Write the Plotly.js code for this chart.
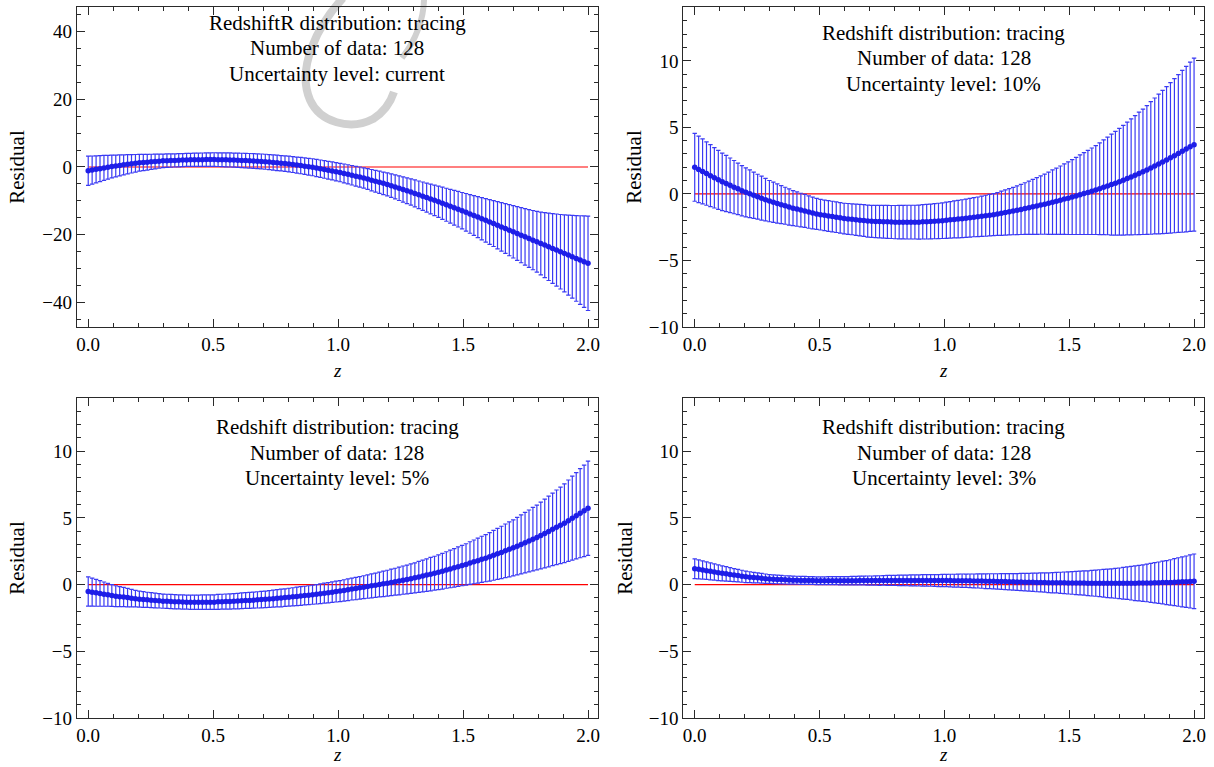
<!DOCTYPE html>
<html>
<head>
<meta charset="utf-8">
<script src="https://cdn.plot.ly/plotly-3.0.1.min.js"></script>
<style>
  html, body { margin: 0; padding: 0; background: #ffffff; }
  #chart { width: 1214px; height: 767px; }
</style>
</head>
<body>
<div id="chart"></div>
<script>
// ---------- data ----------
const z = [0.0000,0.0157,0.0315,0.0472,0.0630,0.0787,0.0945,0.1102,0.1260,0.1417,0.1575,0.1732,0.1890,0.2047,0.2205,0.2362,0.2520,0.2677,0.2835,0.2992,0.3150,0.3307,0.3465,0.3622,0.3780,0.3937,0.4094,0.4252,0.4409,0.4567,0.4724,0.4882,0.5039,0.5197,0.5354,0.5512,0.5669,0.5827,0.5984,0.6142,0.6299,0.6457,0.6614,0.6772,0.6929,0.7087,0.7244,0.7402,0.7559,0.7717,0.7874,0.8031,0.8189,0.8346,0.8504,0.8661,0.8819,0.8976,0.9134,0.9291,0.9449,0.9606,0.9764,0.9921,1.0079,1.0236,1.0394,1.0551,1.0709,1.0866,1.1024,1.1181,1.1339,1.1496,1.1654,1.1811,1.1969,1.2126,1.2283,1.2441,1.2598,1.2756,1.2913,1.3071,1.3228,1.3386,1.3543,1.3701,1.3858,1.4016,1.4173,1.4331,1.4488,1.4646,1.4803,1.4961,1.5118,1.5276,1.5433,1.5591,1.5748,1.5906,1.6063,1.6220,1.6378,1.6535,1.6693,1.6850,1.7008,1.7165,1.7323,1.7480,1.7638,1.7795,1.7953,1.8110,1.8268,1.8425,1.8583,1.8740,1.8898,1.9055,1.9213,1.9370,1.9528,1.9685,1.9843,2.0000];

// Panel 1: uncertainty level current
const residualCurrent = [-1.10,-0.90,-0.69,-0.49,-0.28,-0.08,0.13,0.30,0.46,0.62,0.78,0.93,1.09,1.23,1.32,1.42,1.51,1.61,1.70,1.80,1.85,1.89,1.94,1.99,2.03,2.08,2.11,2.13,2.14,2.16,2.17,2.19,2.19,2.16,2.13,2.10,2.07,2.03,2.00,1.94,1.88,1.82,1.75,1.69,1.63,1.54,1.43,1.32,1.21,1.10,0.99,0.87,0.71,0.55,0.40,0.24,0.08,-0.08,-0.29,-0.51,-0.73,-0.95,-1.17,-1.39,-1.63,-1.90,-2.17,-2.44,-2.71,-2.97,-3.25,-3.56,-3.88,-4.19,-4.51,-4.82,-5.14,-5.50,-5.88,-6.26,-6.64,-7.01,-7.39,-7.78,-8.19,-8.60,-9.01,-9.42,-9.83,-10.25,-10.68,-11.13,-11.57,-12.01,-12.45,-12.89,-13.35,-13.83,-14.30,-14.77,-15.24,-15.72,-16.20,-16.68,-17.17,-17.66,-18.15,-18.64,-19.12,-19.61,-20.10,-20.59,-21.08,-21.56,-22.05,-22.54,-23.03,-23.52,-24.01,-24.49,-24.98,-25.47,-25.96,-26.45,-26.94,-27.42,-27.91,-28.40];
const errorCurrent = [4.30,4.14,3.99,3.83,3.67,3.51,3.36,3.22,3.09,2.97,2.84,2.71,2.59,2.48,2.40,2.32,2.24,2.16,2.08,2.00,1.99,1.97,1.95,1.94,1.92,1.91,1.91,1.93,1.94,1.96,1.97,1.99,2.00,2.02,2.04,2.05,2.07,2.08,2.10,2.11,2.13,2.15,2.16,2.18,2.19,2.21,2.22,2.24,2.26,2.27,2.29,2.31,2.34,2.37,2.40,2.43,2.46,2.50,2.53,2.56,2.59,2.62,2.65,2.68,2.72,2.77,2.82,2.87,2.91,2.96,3.01,3.07,3.14,3.20,3.26,3.32,3.39,3.46,3.54,3.62,3.70,3.78,3.86,3.95,4.06,4.17,4.28,4.39,4.50,4.61,4.74,4.86,4.99,5.12,5.24,5.37,5.53,5.70,5.88,6.05,6.22,6.40,6.58,6.76,6.95,7.14,7.33,7.52,7.71,7.91,8.12,8.32,8.53,8.73,8.94,9.24,9.59,9.94,10.28,10.63,10.98,11.35,11.78,12.20,12.63,13.05,13.48,13.90];

// Panel 2: uncertainty level 10%
const residual10 = [2.00,1.84,1.69,1.53,1.37,1.21,1.06,0.91,0.78,0.65,0.51,0.38,0.24,0.12,0.01,-0.10,-0.21,-0.32,-0.43,-0.54,-0.63,-0.72,-0.81,-0.89,-0.98,-1.07,-1.14,-1.21,-1.28,-1.36,-1.43,-1.50,-1.56,-1.61,-1.66,-1.70,-1.75,-1.80,-1.85,-1.88,-1.91,-1.94,-1.97,-2.00,-2.04,-2.06,-2.07,-2.08,-2.09,-2.10,-2.11,-2.12,-2.12,-2.12,-2.12,-2.12,-2.12,-2.12,-2.10,-2.09,-2.07,-2.05,-2.03,-2.01,-1.98,-1.95,-1.92,-1.89,-1.86,-1.83,-1.79,-1.75,-1.72,-1.68,-1.64,-1.60,-1.56,-1.51,-1.45,-1.40,-1.34,-1.29,-1.23,-1.17,-1.10,-1.04,-0.97,-0.91,-0.84,-0.77,-0.70,-0.62,-0.55,-0.47,-0.39,-0.32,-0.24,-0.15,-0.06,0.03,0.11,0.20,0.29,0.39,0.50,0.60,0.70,0.80,0.91,1.03,1.16,1.28,1.41,1.54,1.66,1.80,1.95,2.10,2.25,2.40,2.55,2.71,2.87,3.04,3.20,3.37,3.54,3.70];
const error10 = [2.55,2.50,2.44,2.38,2.33,2.27,2.22,2.16,2.11,2.05,2.00,1.94,1.89,1.84,1.79,1.74,1.69,1.65,1.60,1.55,1.51,1.47,1.43,1.39,1.36,1.32,1.29,1.26,1.24,1.22,1.19,1.17,1.15,1.15,1.15,1.15,1.15,1.15,1.15,1.16,1.16,1.17,1.18,1.19,1.20,1.20,1.21,1.22,1.23,1.24,1.24,1.25,1.26,1.26,1.27,1.27,1.27,1.28,1.29,1.30,1.31,1.32,1.33,1.34,1.36,1.37,1.39,1.41,1.42,1.44,1.45,1.47,1.49,1.51,1.54,1.56,1.58,1.61,1.66,1.70,1.74,1.78,1.83,1.88,1.94,2.00,2.07,2.13,2.19,2.26,2.34,2.42,2.49,2.57,2.65,2.73,2.81,2.90,2.99,3.08,3.16,3.25,3.34,3.45,3.56,3.67,3.79,3.90,4.01,4.12,4.24,4.36,4.48,4.60,4.71,4.84,4.98,5.11,5.25,5.38,5.51,5.65,5.79,5.93,6.08,6.22,6.36,6.50];

// Panel 3: uncertainty level 5%
const residual5 = [-0.51,-0.56,-0.61,-0.66,-0.71,-0.76,-0.81,-0.86,-0.90,-0.93,-0.97,-1.01,-1.05,-1.09,-1.11,-1.14,-1.16,-1.19,-1.21,-1.24,-1.25,-1.26,-1.28,-1.29,-1.30,-1.31,-1.32,-1.32,-1.32,-1.31,-1.31,-1.31,-1.31,-1.29,-1.28,-1.27,-1.26,-1.24,-1.23,-1.21,-1.19,-1.18,-1.16,-1.14,-1.12,-1.10,-1.07,-1.05,-1.02,-1.00,-0.97,-0.94,-0.91,-0.88,-0.85,-0.82,-0.79,-0.75,-0.72,-0.68,-0.64,-0.60,-0.56,-0.52,-0.48,-0.43,-0.38,-0.33,-0.29,-0.24,-0.19,-0.14,-0.09,-0.04,0.01,0.06,0.11,0.17,0.22,0.28,0.34,0.39,0.45,0.51,0.58,0.65,0.72,0.79,0.86,0.93,1.01,1.10,1.18,1.26,1.35,1.43,1.52,1.62,1.71,1.80,1.90,1.99,2.09,2.20,2.31,2.42,2.54,2.65,2.76,2.89,3.02,3.15,3.28,3.41,3.54,3.69,3.84,3.99,4.15,4.30,4.45,4.61,4.80,4.99,5.17,5.36,5.54,5.73];
const error5 = [1.10,1.05,1.01,0.96,0.91,0.86,0.82,0.78,0.75,0.72,0.69,0.65,0.62,0.60,0.59,0.57,0.56,0.55,0.54,0.53,0.53,0.53,0.53,0.53,0.53,0.53,0.53,0.54,0.54,0.54,0.54,0.55,0.55,0.56,0.56,0.57,0.57,0.57,0.58,0.59,0.59,0.60,0.60,0.61,0.62,0.62,0.63,0.64,0.65,0.66,0.66,0.67,0.68,0.69,0.70,0.70,0.71,0.72,0.73,0.74,0.75,0.76,0.77,0.78,0.79,0.80,0.81,0.82,0.84,0.85,0.86,0.88,0.90,0.91,0.93,0.95,0.97,0.99,1.01,1.04,1.06,1.08,1.11,1.13,1.16,1.19,1.22,1.25,1.27,1.30,1.34,1.37,1.41,1.44,1.48,1.51,1.55,1.60,1.64,1.69,1.73,1.77,1.82,1.87,1.91,1.96,2.01,2.06,2.10,2.16,2.21,2.27,2.32,2.38,2.43,2.50,2.58,2.65,2.72,2.80,2.87,2.95,3.05,3.15,3.24,3.34,3.43,3.53];

// Panel 4: uncertainty level 3%
const residual3 = [1.20,1.15,1.10,1.05,1.00,0.95,0.90,0.85,0.81,0.76,0.72,0.68,0.63,0.59,0.56,0.53,0.51,0.48,0.45,0.42,0.41,0.39,0.38,0.36,0.35,0.34,0.33,0.32,0.32,0.31,0.31,0.30,0.30,0.30,0.30,0.30,0.30,0.30,0.30,0.30,0.30,0.30,0.31,0.31,0.31,0.31,0.31,0.31,0.32,0.32,0.32,0.32,0.32,0.32,0.32,0.32,0.32,0.32,0.32,0.32,0.32,0.31,0.31,0.31,0.31,0.31,0.30,0.30,0.30,0.29,0.29,0.28,0.28,0.27,0.26,0.26,0.25,0.24,0.24,0.23,0.22,0.21,0.20,0.20,0.19,0.18,0.18,0.17,0.17,0.16,0.15,0.15,0.15,0.14,0.14,0.13,0.13,0.12,0.12,0.12,0.11,0.11,0.11,0.11,0.11,0.10,0.10,0.10,0.10,0.10,0.11,0.11,0.11,0.12,0.12,0.13,0.13,0.14,0.15,0.16,0.16,0.17,0.19,0.20,0.21,0.22,0.24,0.25];
const error3 = [0.74,0.71,0.69,0.66,0.64,0.61,0.59,0.56,0.54,0.52,0.49,0.47,0.45,0.43,0.41,0.39,0.38,0.36,0.35,0.33,0.33,0.32,0.32,0.31,0.31,0.30,0.30,0.30,0.30,0.29,0.29,0.29,0.29,0.29,0.30,0.30,0.30,0.31,0.31,0.31,0.32,0.32,0.33,0.33,0.34,0.34,0.35,0.36,0.36,0.37,0.37,0.38,0.39,0.39,0.40,0.41,0.41,0.42,0.43,0.43,0.44,0.44,0.45,0.46,0.46,0.47,0.48,0.49,0.50,0.50,0.51,0.52,0.53,0.54,0.55,0.56,0.57,0.58,0.59,0.60,0.61,0.62,0.63,0.65,0.66,0.67,0.68,0.70,0.71,0.72,0.74,0.76,0.77,0.79,0.81,0.83,0.85,0.87,0.89,0.91,0.93,0.96,0.98,1.01,1.04,1.07,1.09,1.12,1.15,1.19,1.22,1.26,1.30,1.33,1.37,1.41,1.46,1.51,1.55,1.60,1.65,1.70,1.76,1.82,1.88,1.93,1.99,2.05];

const referenceLevel = 0;
const panelLines = [
  ["RedshiftR distribution: tracing", "Number of data: 128", "Uncertainty level: current"],
  ["Redshift distribution: tracing", "Number of data: 128", "Uncertainty level: 10%"],
  ["Redshift distribution: tracing", "Number of data: 128", "Uncertainty level: 5%"],
  ["Redshift distribution: tracing", "Number of data: 128", "Uncertainty level: 3%"]
];
const xTitle = "<i>z</i>";
const yTitle = "Residual";

// ---------- styling ----------
const SERIF = '"Liberation Serif", "Times New Roman", Times, serif';
const BLUE = "rgb(30,30,232)";
const BAR = "rgb(58,58,244)";
const FRAME = "#2a2a2a";

const series = [
  {y: residualCurrent, e: errorCurrent},
  {y: residual10, e: error10},
  {y: residual5, e: error5},
  {y: residual3, e: error3}
];

const traces = [];
series.forEach((s, k) => {
  const n = k === 0 ? "" : String(k + 1);
  traces.push({
    x: [z[0], z[z.length - 1]], y: [referenceLevel, referenceLevel],
    xaxis: "x" + n, yaxis: "y" + n, mode: "lines",
    line: {color: "#ff0000", width: 1.2}, hoverinfo: "skip"
  });
  traces.push({
    x: z, y: s.y, xaxis: "x" + n, yaxis: "y" + n, mode: "markers",
    marker: {color: BLUE, size: 5.5, line: {width: 0}},
    error_y: {type: "data", array: s.e, visible: true, color: BAR, thickness: 1.2, width: 2.2}
  });
});

const xDom = [[0.0634, 0.4926], [0.5630, 0.9918]];
const yDom = [[0.5737, 0.9909], [0.0639, 0.4811]];

function xAxis(dom, anchor) {
  return {
    domain: dom, anchor: anchor, range: [-0.045, 2.04],
    tickmode: "linear", tick0: 0, dtick: 0.5, tickformat: ".1f",
    ticks: "inside", ticklen: 8, tickwidth: 1, tickcolor: FRAME,
    minor: {dtick: 0.1, ticks: "inside", ticklen: 4, tickwidth: 1, tickcolor: FRAME},
    showline: true, linecolor: FRAME, linewidth: 1.2, mirror: "allticks",
    showgrid: false, zeroline: false, automargin: false,
    tickfont: {family: SERIF, size: 19, color: "#000"}
  };
}
function yAxis(dom, anchor, range, dtick, minor, standoff) {
  return {
    domain: dom, anchor: anchor, range: range,
    tickmode: "linear", tick0: 0, dtick: dtick,
    ticks: "inside", ticklen: 8, tickwidth: 1, tickcolor: FRAME,
    minor: {dtick: minor, ticks: "inside", ticklen: 4, tickwidth: 1, tickcolor: FRAME},
    showline: true, linecolor: FRAME, linewidth: 1.2, mirror: "allticks",
    showgrid: false, zeroline: false, automargin: false,
    tickfont: {family: SERIF, size: 19, color: "#000"},
    title: {text: yTitle, font: {family: SERIF, size: 21, color: "#000"}, standoff: standoff}
  };
}

const annotations = [];
const lineY = [[0.950, 0.872, 0.791], [0.919, 0.841, 0.758], [0.910, 0.829, 0.749], [0.910, 0.829, 0.749]];
panelLines.forEach((lines, k) => {
  const n = k === 0 ? "" : String(k + 1);
  lines.forEach((t, j) => {
    annotations.push({
      text: t, xref: "x" + n + " domain", yref: "y" + n + " domain",
      x: 0.5, y: lineY[k][j], xanchor: "center", yanchor: "middle",
      showarrow: false, font: {family: SERIF, size: 21, color: "#000"}
    });
  });
  // x-axis title
  annotations.push({
    text: xTitle, xref: "x" + n + " domain", yref: "paper",
    x: 0.5, y: k < 2 ? 0.5176 : 0.0, xanchor: "center", yanchor: k < 2 ? "middle" : "bottom",
    showarrow: false, font: {family: SERIF, size: 19, color: "#000"}
  });
});

// faint publisher watermark arc in the first panel
const shapes = [
  {type: "path", xref: "paper", yref: "paper", layer: "below",
   path: "M 0.2825 1.0026 C 0.2619 0.9674, 0.2438 0.9113, 0.2554 0.8696 C 0.2636 0.8409, 0.2883 0.8292, 0.3072 0.8448 C 0.3163 0.8540, 0.3221 0.8683, 0.3245 0.8801",
   line: {color: "rgb(208,208,208)", width: 8}},
  {type: "path", xref: "paper", yref: "paper", layer: "below",
   path: "M 0.3493 1.0026 C 0.3493 0.9765, 0.3427 0.9478, 0.3311 0.9244",
   line: {color: "rgb(208,208,208)", width: 6}}
];

const layout = {
  width: 1214, height: 767,
  margin: {l: 0, r: 0, t: 0, b: 0},
  paper_bgcolor: "#ffffff", plot_bgcolor: "#ffffff",
  showlegend: false,
  xaxis: xAxis(xDom[0], "y"),
  yaxis: yAxis(yDom[0], "x", [-47.15, 47.15], 20, 5, 11),
  xaxis2: xAxis(xDom[1], "y2"),
  yaxis2: yAxis(yDom[0], "x2", [-10, 14.05], 5, 1, 1),
  xaxis3: xAxis(xDom[0], "y3"),
  yaxis3: yAxis(yDom[1], "x3", [-10, 14], 5, 1, 11),
  xaxis4: xAxis(xDom[1], "y4"),
  yaxis4: yAxis(yDom[1], "x4", [-10, 14], 5, 1, 10),
  annotations: annotations,
  shapes: shapes
};

Plotly.newPlot("chart", traces, layout, {displayModeBar: false, staticPlot: true});
</script>
</body>
</html>
